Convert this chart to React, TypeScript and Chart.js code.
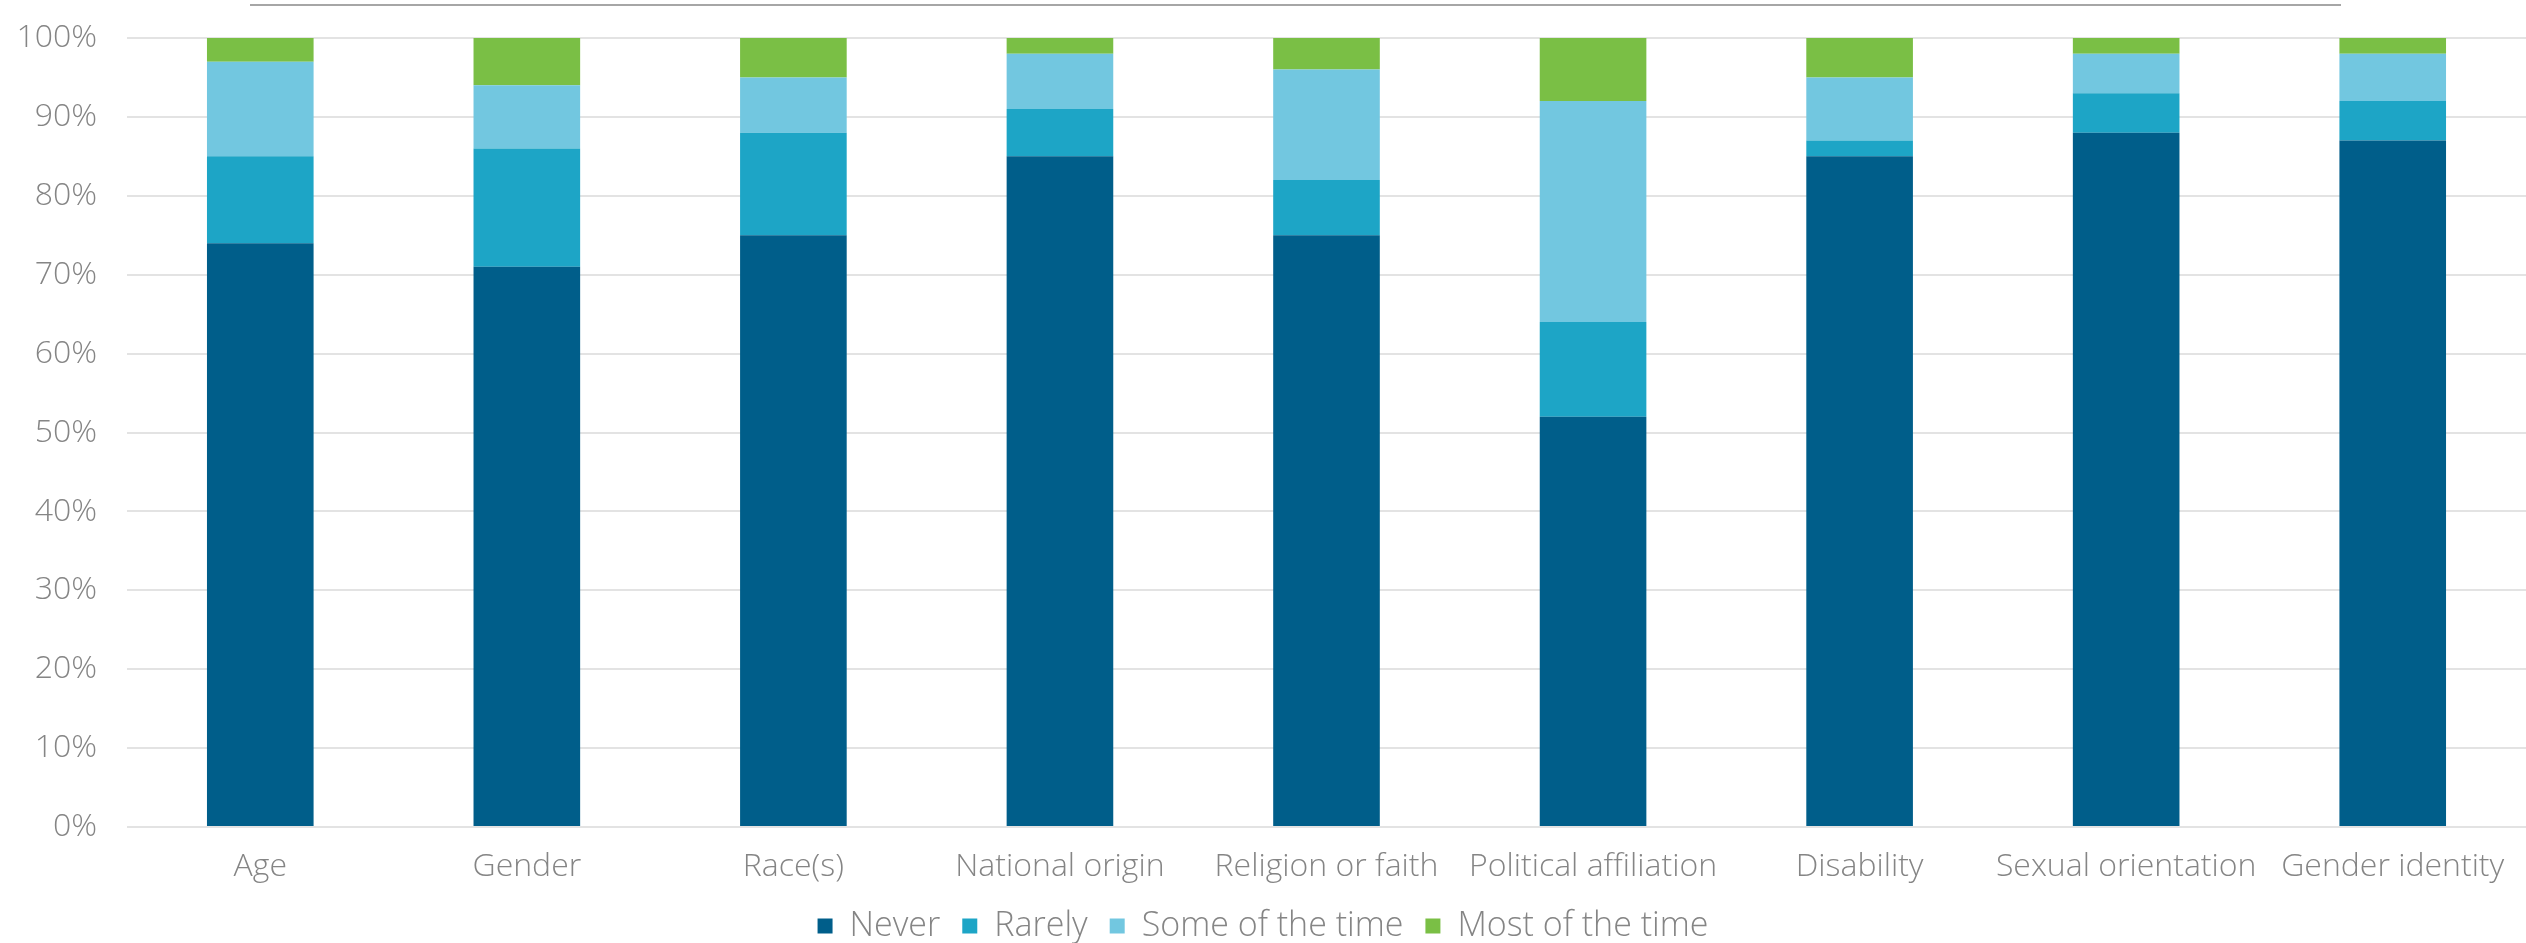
import React, { useEffect, useRef } from "react";
import { Chart, registerables } from "chart.js";

Chart.register(...registerables);

const categories = [
  "Age",
  "Gender",
  "Race(s)",
  "National origin",
  "Religion or faith",
  "Political affiliation",
  "Disability",
  "Sexual orientation",
  "Gender identity",
];
const never = [74, 71, 75, 85, 75, 52, 85, 88, 87];
const rarely = [11, 15, 13, 6, 7, 12, 2, 5, 5];
const someOfTheTime = [12, 8, 7, 7, 14, 28, 8, 5, 6];
const mostOfTheTime = [3, 6, 5, 2, 4, 8, 5, 2, 2];
const seriesNames = ["Never", "Rarely", "Some of the time", "Most of the time"];
const yTicks = [0, 10, 20, 30, 40, 50, 60, 70, 80, 90, 100];

const colors = ["#005E8A", "#1DA5C6", "#72C7E0", "#7ABF45"];
const FONT = "'Open Sans', sans-serif";
const TEXT = "#858585";

export default function App() {
  const ref = useRef<HTMLCanvasElement | null>(null);

  useEffect(() => {
    document.body.style.margin = "0";
    const values = [never, rarely, someOfTheTime, mostOfTheTime];
    const chart = new Chart(ref.current as HTMLCanvasElement, {
      type: "bar",
      data: {
        labels: categories,
        datasets: values.map((v, i) => ({
          label: seriesNames[i],
          data: v,
          backgroundColor: colors[i],
          borderWidth: 0,
          barPercentage: 0.4,
          categoryPercentage: 1,
        })),
      },
      options: {
        animation: false,
        responsive: false,
        maintainAspectRatio: false,
        layout: { padding: { top: 38, right: 0, bottom: -10, left: 0 } },
        plugins: {
          tooltip: { enabled: false },
          legend: {
            position: "bottom",
            labels: {
              font: { family: FONT, size: 34, weight: "300" },
              color: TEXT,
              boxWidth: 15,
              boxHeight: 15,
              padding: 22,
            },
          },
        },
        scales: {
          x: {
            stacked: true,
            grid: { display: false, drawTicks: false },
            border: { display: false },
            afterFit: (s: any) => {
              s.height = 60;
            },
            ticks: {
              font: { family: FONT, size: 32, weight: "300" },
              color: TEXT,
              padding: 21,
              maxRotation: 0,
              autoSkip: false,
            },
          },
          y: {
            stacked: true,
            min: 0,
            max: 100,
            afterFit: (s: any) => {
              s.width = 127;
              s.paddingTop = 0;
              s.paddingBottom = 0;
            },
            afterBuildTicks: (s: any) => {
              s.ticks = yTicks.map((v) => ({ value: v }));
            },
            grid: { color: "#e3e3e3", lineWidth: 2, drawTicks: false },
            border: { display: false },
            ticks: {
              font: { family: FONT, size: 32, weight: "300" },
              color: TEXT,
              padding: 30,
              callback: (v: any) => v + "%",
            },
          },
        },
      },
    });
    return () => chart.destroy();
  }, []);

  return (
    <div style={{ position: "relative", width: 2526, height: 943, background: "#fff", overflow: "hidden" }}>
      <div
        style={{
          position: "absolute",
          left: 250,
          top: 4,
          width: 2091,
          height: 2,
          background: "#a6a6a6",
        }}
      />
      <canvas ref={ref} width={2526} height={943} style={{ display: "block" }} />
    </div>
  );
}
